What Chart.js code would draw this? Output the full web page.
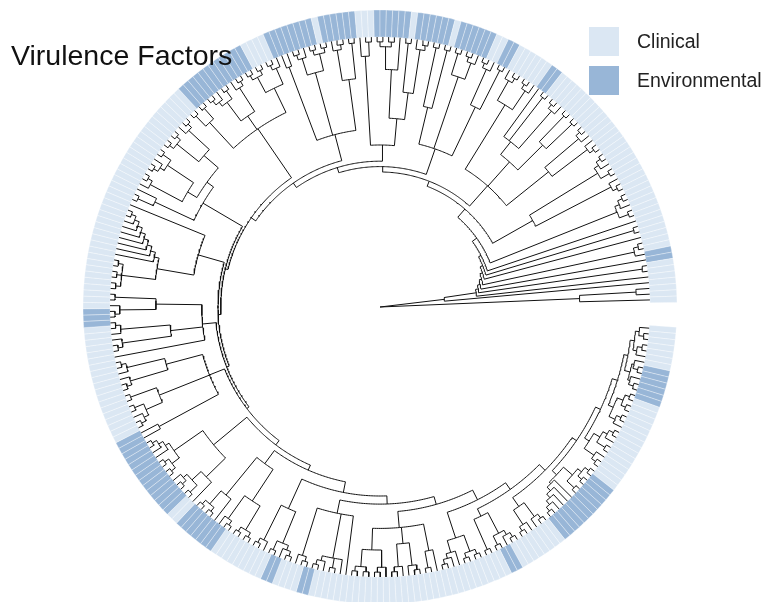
<!DOCTYPE html>
<html>
<head>
<meta charset="utf-8">
<script src="https://cdn.jsdelivr.net/npm/chart.js@4.4.0/dist/chart.umd.min.js"></script>
<style>
  html, body { margin: 0; background: #fff; width: 765px; height: 602px; overflow: hidden; position: relative;
               font-family: "Liberation Sans", Arial, Helvetica, sans-serif; }
  #ring, #tree { position: absolute; left: 70px; top: -3px; }
  #title { position: absolute; left: 11px; top: 41px; font-size: 28.5px; line-height: 1; color: #111; }
  .key   { position: absolute; left: 589px; width: 30px; height: 29px; }
  .lab   { position: absolute; left: 637px; font-size: 19.5px; line-height: 1; color: #222; }
</style>
</head>
<body>
<canvas id="ring" width="620" height="620"></canvas>
<canvas id="tree" width="620" height="620"></canvas>
<div id="title">Virulence Factors</div>
<div id="legend"></div>
<script>
/* ── Data ──────────────────────────────────────────────────────────────── */
const classes      = ['Clinical', 'Environmental'];
const classColors  = ['#dbe7f3', '#98b6d7'];

// tip angles (degrees, counter-clockwise from 3 o'clock): first and last tip
const tipAngles = [1.5, 355.5];

// environmental isolates: [first tip, number of tips], tips counted counter-clockwise
const environmentalRuns = [
  [7, 2], [42, 2], [50, 2], [54, 6], [61, 6], [68, 6], [77, 6], [84, 8], [96, 12],
  [147, 3], [169, 14], [185, 7], [201, 2], [207, 2], [242, 2], [252, 11], [278, 6],
];

// tree topology: * = tip, (..) = clade, :d = node depth (tips at 1)
const outgroup = '(*(**):0.95):0.74';
const spineClades = [
  '*', '*', '(**)', '*', '(*(**))', '*', '(**)', '*', '((**)(*(**)))',
  '(((**)*)((**)(*(**)))):0.65',
  '((((**)*)(*(**))):0.8(((**)(**)):0.85((*(**))(**)*):0.78):0.72((*(**))((**)*)):0.88):0.6',
  '(((**)(*(**))):0.82((*(**))(**)):0.9((**)(**)):0.76):0.62',
  '(((((**)*)(**)):0.8(*((**)(**))):0.88):0.7((**)*):0.93):0.6',
  '(((**)((**)*)):0.85(((**)(**))(*(**))):0.9(**):0.95):0.66',
  '(((*(**))((**)(**))):0.9(((**)*)((**)(*(**)))):0.86((**)(**)):0.93):0.8',
  '(((((**)*)((**)(**))):0.86(((**)(*(**)))((**)*)):0.83):0.79(*(**)):0.92):0.76',
  '(*(((((((((**)*)*)*)*)*)*)*)((**)(**)(**)))):0.7',
  '(((**)(*(**))):0.83(((**)*)(*(**))):0.78*):0.66',
  '((((**)*)(*(**))):0.82((**)((**)(*(**)))):0.88(**):0.93):0.68',
  '(((((**)*)*)((**)(**))):0.93(((*(**))(**))*):0.9):0.8',
  '((((**)(**))*):0.9((*(**))((**)(**))):0.86):0.72',
  '(((**)*)((**)(*(**)))):0.82',
  '((*(**))(((**)*)(**)*)*):0.78',
  '((((**)(**))((**)*)):0.9(((**)*)(*(**))):0.88((**)*):0.92):0.82',
  '((((**)*)*)((**)(**))):0.9',
  '((**)((**)(*(**)))):0.86',
  '(((**)*)(*(**))):0.9',
  '((((((**)*)*)*)*)((**)((**)(**)))):0.93',
  '(((**)*)((**)(*(**)))):0.92',
  '((*(**))((**)(**))):0.94',
  '(((**)*)((**)*)):0.96',
  '(*(**))',
  '((**)*)',
];
// depth of each backbone node, root side first
const spineDepths = [0.24, 0.36, 0.37, 0.38, 0.39, 0.40, 0.41, 0.42, 0.44,
                     0.48, 0.50, 0.52, 0.54, 0.56, 0.58, 0.59, 0.60, 0.61, 0.62, 0.64, 0.66,
                     0.70, 0.73, 0.76, 0.80, 0.83, 0.86, 0.88, 0.90, 0.92, 0.935, 0.95];

const STEP = 0.018;           // depth step for clades without a given depth
const VIEW = 1.1481;          // axis half-range (tips at 1)

/* ── Tree ──────────────────────────────────────────────────────────────── */
function parseClade(s) {
  let i = 0;
  function node() {
    if (s[i] === '*') { i++; return { children: [] }; }
    i++;
    const n = { children: [] };
    while (s[i] !== ')') n.children.push(node());
    i++;
    if (s[i] === ':') {
      i++;
      const j = i;
      while (i < s.length && /[0-9.]/.test(s[i])) i++;
      n.depth = parseFloat(s.slice(j, i));
    }
    return n;
  }
  return node();
}

function buildSpine(k) {
  const last = k === spineDepths.length - 1;
  return {
    depth: spineDepths[k],
    children: [parseClade(spineClades[k]), last ? parseClade(spineClades[k + 1]) : buildSpine(k + 1)],
  };
}

const root = { depth: 0, children: [parseClade(outgroup), buildSpine(0)] };

let tipCount = 0;
function place(n) {
  if (!n.children.length) { n.tip = tipCount++; n.r = 1; return; }
  n.children.forEach(place);
  const inner = Math.min(...n.children.map(c => c.r));
  n.r = n.depth != null ? Math.min(n.depth, inner - 0.008) : inner - STEP;
}
place(root);
root.r = 0;

const tipStep = (tipAngles[1] - tipAngles[0]) / (tipCount - 1);
function setAngle(n) {
  if (!n.children.length) return (n.a = tipAngles[0] + n.tip * tipStep);
  const as = n.children.map(setAngle);
  n.a0 = Math.min(...as);
  n.a1 = Math.max(...as);
  n.a = as.reduce((p, q) => p + q, 0) / as.length;
  return n.a;
}
setAngle(root);

const branchPts = [];
const polar = (r, a) => ({ x: r * Math.cos(a * Math.PI / 180), y: r * Math.sin(a * Math.PI / 180) });
const gap = () => branchPts.push({ x: NaN, y: NaN });
function walk(n) {
  n.children.forEach(c => {
    branchPts.push(polar(n.r, c.a), polar(c.r, c.a));
    gap();
    walk(c);
  });
  if (n.children.length && n.r > 0) {
    for (let a = n.a0; a < n.a1; a += 0.5) branchPts.push(polar(n.r, a));
    branchPts.push(polar(n.r, n.a1));
    gap();
  }
}
walk(root);

new Chart(document.getElementById('tree'), {
  type: 'scatter',
  data: {
    datasets: [{
      data: branchPts,
      showLine: true,
      spanGaps: false,
      borderColor: '#111',
      borderWidth: 1,
      pointRadius: 0,
      pointHoverRadius: 0,
    }],
  },
  options: {
    responsive: false,
    animation: false,
    devicePixelRatio: 1,
    events: [],
    layout: { padding: 0 },
    plugins: { legend: { display: false }, tooltip: { enabled: false } },
    scales: {
      x: { type: 'linear', min: -VIEW, max: VIEW, display: false },
      y: { type: 'linear', min: -VIEW, max: VIEW, display: false },
    },
  },
});

/* ── Ring ──────────────────────────────────────────────────────────────── */
const tipClass = Array(tipCount).fill(0);
environmentalRuns.forEach(([s, n]) => { for (let i = s; i < s + n; i++) tipClass[i] = 1; });
const ringOrder = tipClass.slice().reverse();   // doughnut runs clockwise

new Chart(document.getElementById('ring'), {
  type: 'doughnut',
  data: {
    labels: ringOrder.map(c => classes[c]),
    datasets: [{
      data: ringOrder.map(() => 1),
      backgroundColor: ringOrder.map(c => classColors[c]),
      borderColor: 'rgba(255,255,255,0.55)',
      borderWidth: 0.6,
    }],
  },
  options: {
    responsive: false,
    animation: false,
    devicePixelRatio: 1,
    events: [],
    radius: 297,
    cutout: '90.9%',
    rotation: 90 - (tipAngles[1] + tipStep / 2),
    circumference: tipCount * tipStep,
    plugins: { legend: { display: false }, tooltip: { enabled: false } },
  },
});

/* ── Legend ────────────────────────────────────────────────────────────── */
const legend = document.getElementById('legend');
classes.forEach((c, i) => {
  legend.insertAdjacentHTML('beforeend',
    `<div class="key" style="top:${27 + i * 39}px;background:${classColors[i]}"></div>` +
    `<div class="lab" style="top:${31.5 + i * 39.5}px">${c}</div>`);
});
</script>
</body>
</html>
